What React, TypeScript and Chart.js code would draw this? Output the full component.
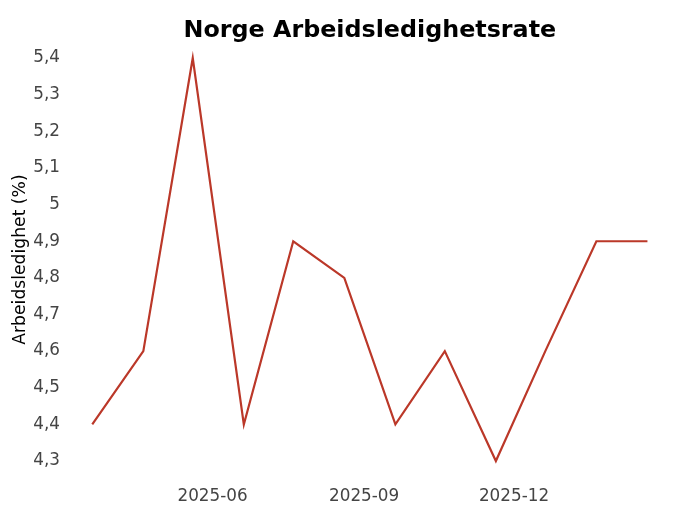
import React, { useEffect, useRef } from "react";
import { Chart, registerables } from "chart.js";

Chart.register(...registerables);

const titleText = "Norge Arbeidsledighetsrate";
const yAxisTitle = "Arbeidsledighet (%)";
const dates = [
  "2025-03-20", "2025-04-20", "2025-05-20", "2025-06-20", "2025-07-20", "2025-08-20",
  "2025-09-20", "2025-10-20", "2025-11-20", "2025-12-20", "2026-01-20", "2026-02-20",
];
const rates = [4.4, 4.6, 5.4, 4.4, 4.9, 4.8, 4.4, 4.6, 4.3, 4.6, 4.9, 4.9];
const xTickDates = ["2025-06-01", "2025-09-01", "2025-12-01"];
const xTickLabels = ["2025-06", "2025-09", "2025-12"];
const yTickValues = [4.3, 4.4, 4.5, 4.6, 4.7, 4.8, 4.9, 5.0, 5.1, 5.2, 5.3, 5.4];
const yTickLabels = ["4,3", "4,4", "4,5", "4,6", "4,7", "4,8", "4,9", "5", "5,1", "5,2", "5,3", "5,4"];

const toDay = (s: string) => {
  const [y, m, d] = s.split("-").map(Number);
  return Date.UTC(y, m - 1, d) / 86400000;
};

const FONT = "'DejaVu Sans', sans-serif";

// Title centred over the plot area (as in the reference), drawn as canvas text.
const axesTitlePlugin = {
  id: "axesTitle",
  afterDraw(chart: any) {
    const { ctx, chartArea } = chart;
    ctx.save();
    ctx.font = `bold 23.8px ${FONT}`;
    ctx.fillStyle = "#000000";
    ctx.textAlign = "center";
    ctx.textBaseline = "alphabetic";
    ctx.fillText(titleText, (chartArea.left + chartArea.right) / 2, 36.5);
    ctx.restore();
  },
};

export default function App() {
  const ref = useRef<HTMLCanvasElement | null>(null);

  useEffect(() => {
    if (!ref.current) return;
    const xs = dates.map(toDay);
    const xMinD = Math.min(...xs);
    const xMaxD = Math.max(...xs);
    const xSpan = xMaxD - xMinD;
    const yMinD = Math.min(...rates);
    const yMaxD = Math.max(...rates);
    const ySpan = yMaxD - yMinD;
    const xTicks = xTickDates.map(toDay);

    const chart = new Chart(ref.current, {
      type: "line",
      data: {
        datasets: [
          {
            data: xs.map((x, i) => ({ x, y: rates[i] })),
            borderColor: "#bb3829",
            borderWidth: 2.2,
            pointRadius: 0,
            tension: 0,
            fill: false,
          },
        ],
      },
      plugins: [axesTitlePlugin],
      options: {
        responsive: false,
        animation: false,
        layout: { padding: { left: 0, right: 4.8, top: 37.9, bottom: 0 } },
        plugins: {
          legend: { display: false },
          tooltip: { enabled: false },
          title: { display: false },
        },
        scales: {
          x: {
            type: "linear",
            min: xMinD - 0.05 * xSpan,
            max: xMaxD + 0.05 * xSpan,
            grid: { display: false, drawTicks: false },
            border: { display: false },
            afterBuildTicks: (scale: any) => {
              scale.ticks = xTicks.map((v) => ({ value: v }));
            },
            afterFit: (scale: any) => {
              scale.height = 28.8;
            },
            ticks: {
              autoSkip: false,
              maxRotation: 0,
              padding: 5.2,
              color: "#444444",
              font: { family: FONT, size: 16.8, lineHeight: 1.2 },
              callback: (v: any) => {
                const i = xTicks.indexOf(Number(v));
                return i >= 0 ? xTickLabels[i] : "";
              },
            },
          },
          y: {
            type: "linear",
            min: yMinD - 0.05 * ySpan,
            max: yMaxD + 0.05 * ySpan,
            grid: { display: false, drawTicks: false },
            border: { display: false },
            afterBuildTicks: (scale: any) => {
              scale.ticks = yTickValues.map((v) => ({ value: v }));
            },
            afterFit: (scale: any) => {
              scale.width = 64.5;
            },
            title: {
              display: true,
              text: yAxisTitle,
              color: "#000000",
              font: { family: FONT, size: 17.2, lineHeight: 1.2 },
              padding: { top: 9.8, bottom: 0 },
            },
            ticks: {
              autoSkip: false,
              padding: 4.5,
              color: "#444444",
              font: { family: FONT, size: 16.8, lineHeight: 1.2 },
              callback: (v: any) => {
                const i = yTickValues.findIndex((t) => Math.abs(t - Number(v)) < 1e-9);
                return i >= 0 ? yTickLabels[i] : "";
              },
            },
          },
        },
      },
    });
    return () => chart.destroy();
  }, []);

  return (
    <div style={{ position: "absolute", left: 0, top: 0, width: 680, height: 510, background: "#ffffff" }}>
      <canvas ref={ref} width={680} height={510} style={{ display: "block" }} />
    </div>
  );
}
